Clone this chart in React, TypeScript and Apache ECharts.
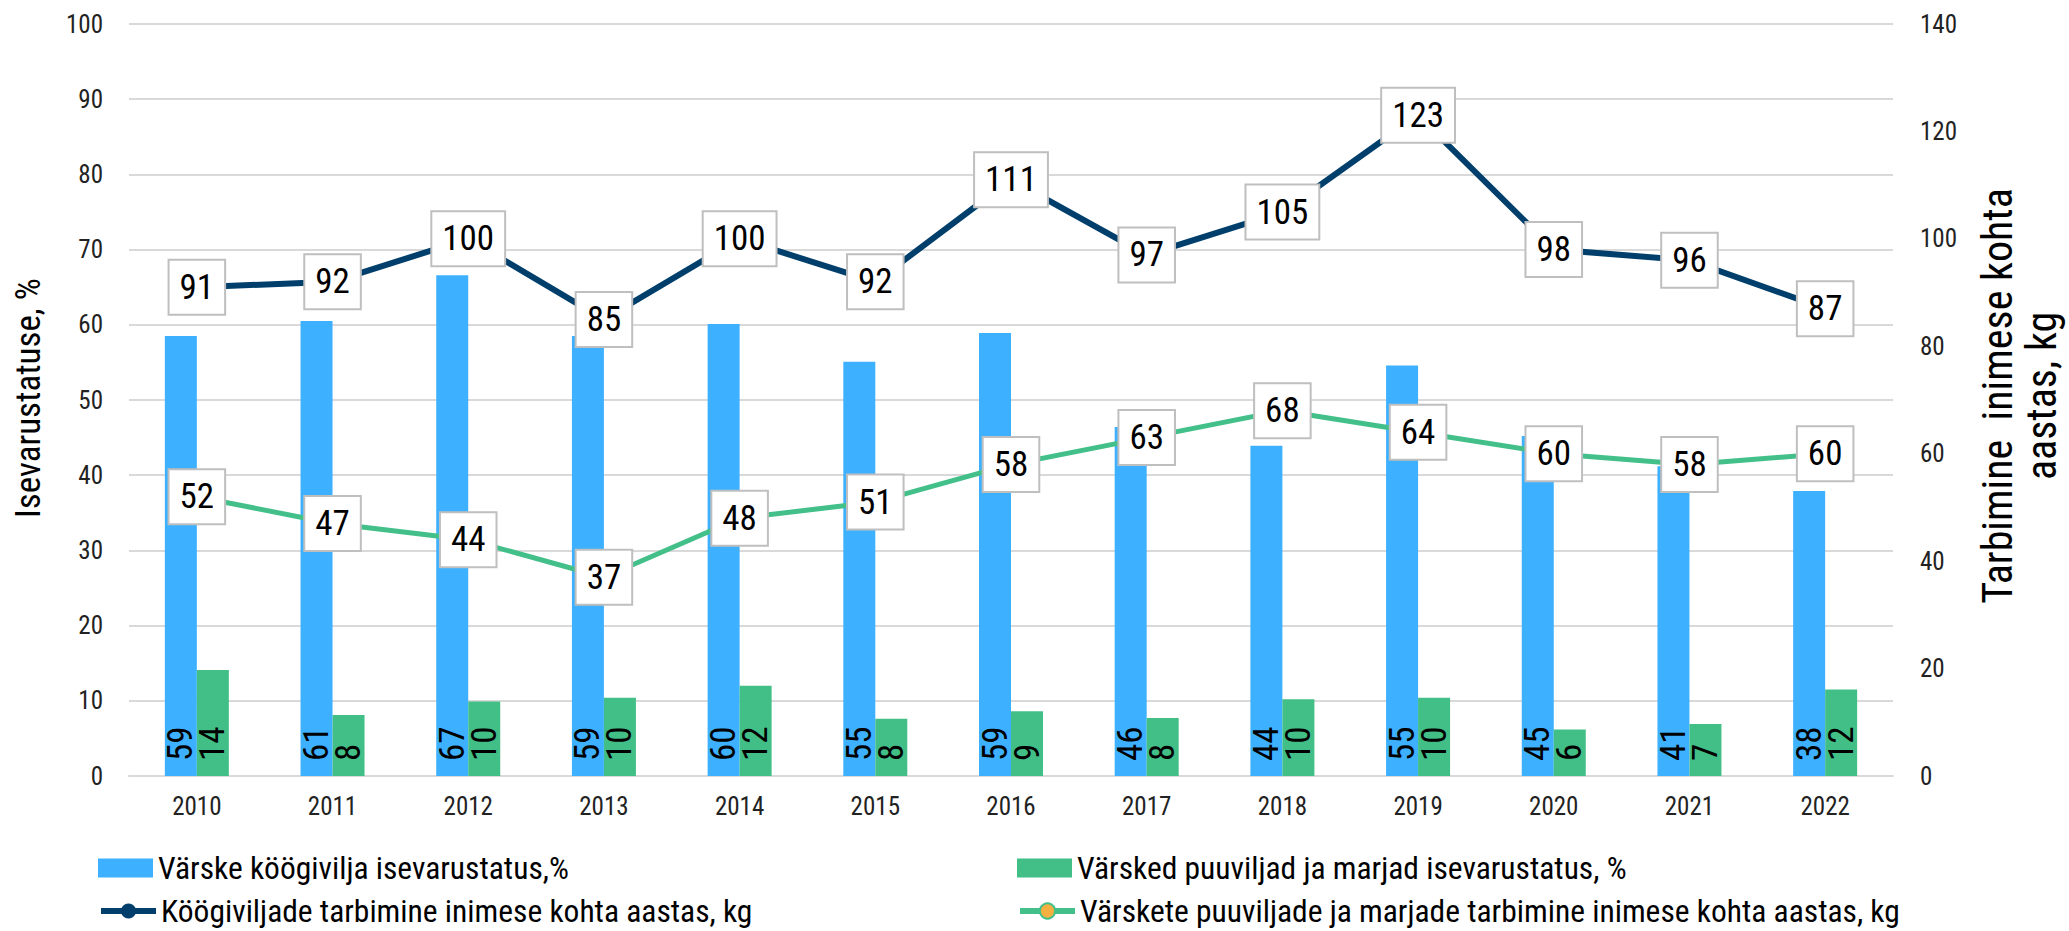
import React, { useEffect, useRef } from "react";
import * as echarts from "echarts";

const years = ["2010", "2011", "2012", "2013", "2014", "2015", "2016", "2017", "2018", "2019", "2020", "2021", "2022"];
// Isevarustatus, % (left axis)
const vegSelf = [58.5, 60.5, 66.6, 58.5, 60.1, 55.1, 58.9, 46.4, 43.9, 54.6, 45.2, 41.2, 37.9];
const fruitSelf = [14.1, 8.1, 9.9, 10.4, 12.0, 7.6, 8.6, 7.7, 10.2, 10.4, 6.2, 6.9, 11.5];
// Tarbimine inimese kohta aastas, kg (right axis)
const vegCons = [91, 92, 100, 85, 100, 92, 111, 97, 105, 123, 98, 96, 87];
const fruitCons = [52, 47, 44, 37, 48, 51, 58, 63, 68, 64, 60, 58, 60];

const names = {
  vegSelf: "Värske köögivilja isevarustatus,%",
  fruitSelf: "Värsked puuviljad ja marjad isevarustatus, %",
  vegCons: "Köögiviljade tarbimine inimese kohta aastas, kg",
  fruitCons: "Värskete puuviljade ja marjade tarbimine inimese kohta aastas, kg",
};

const FONT = "'Liberation Sans Narrow', 'Roboto Condensed', 'DejaVu Sans Condensed', Roboto, sans-serif";

export default function App() {
  const ref = useRef<HTMLDivElement>(null);
  useEffect(() => {
    document.body.style.margin = "0";
    const chart = echarts.init(ref.current!, null, { renderer: "svg" });
    const barLabel = {
      show: true,
      position: "insideBottom",
      rotate: 90,
      align: "left",
      verticalAlign: "middle",
      distance: 15,
      fontSize: 35,
      fontFamily: FONT,
      color: "#000",
      formatter: (p: any) => String(Math.round(p.value)),
    };
    const lineLabel = {
      show: true,
      position: "inside",
      backgroundColor: "#fff",
      borderColor: "#BFBFBF",
      borderWidth: 2,
      padding: [8, 10],
      fontSize: 35,
      lineHeight: 37,
      fontFamily: FONT,
      color: "#000",
    };
    const mkLegend = (name: string, left: number, top: number, icon?: string) => ({
      orient: "horizontal",
      left,
      top,
      itemWidth: 55,
      itemHeight: 19,
      lineStyle: { width: 6 },
      textStyle: { fontSize: 31.5, lineHeight: 32, fontFamily: FONT, color: "#000" },
      data: [icon ? { name, icon } : { name }],
    });
    chart.setOption({
      animation: false,
      backgroundColor: "#fff",
      grid: { left: 129, right: 176, top: 24, bottom: 155 },
      legend: [
        mkLegend(names.vegSelf, 93, 847, "rect"),
        mkLegend(names.vegCons, 93, 890),
        mkLegend(names.fruitSelf, 1012, 847, "rect"),
        mkLegend(names.fruitCons, 1012, 890),
      ],
      xAxis: {
        type: "category",
        data: years,
        axisLine: { show: true, lineStyle: { color: "#D9D9D9", width: 2 } },
        axisTick: { show: false },
        axisLabel: { fontSize: 25, fontFamily: FONT, color: "#222", margin: 18 },
      },
      yAxis: [
        {
          type: "value",
          min: 0,
          max: 100,
          interval: 10,
          axisLine: { show: false },
          axisTick: { show: false },
          splitLine: { lineStyle: { color: "#D9D9D9", width: 2 } },
          axisLabel: { fontSize: 25, fontFamily: FONT, color: "#222", margin: 26 },
        },
        {
          type: "value",
          min: 0,
          max: 140,
          interval: 20,
          axisLine: { show: false },
          axisTick: { show: false },
          splitLine: { show: false },
          axisLabel: { fontSize: 25, fontFamily: FONT, color: "#222", margin: 27 },
        },
      ],
      graphic: [
        {
          type: "text",
          x: 28,
          y: 398,
          rotation: Math.PI / 2,
          style: {
            text: "Isevarustatuse, %",
            fontSize: 35,
            fontFamily: FONT,
            fill: "#000",
            align: "center",
            verticalAlign: "middle",
          },
        },
        {
          type: "text",
          x: 2019,
          y: 396,
          rotation: Math.PI / 2,
          style: {
            text: "Tarbimine  inimese kohta\naastas, kg",
            fontSize: 42,
            lineHeight: 44,
            fontFamily: FONT,
            fill: "#000",
            align: "center",
            verticalAlign: "middle",
          },
        },
      ],
      series: [
        {
          name: names.vegSelf,
          type: "bar",
          data: vegSelf,
          barWidth: 32,
          barGap: "0%",
          itemStyle: { color: "#3DB1FF" },
          label: barLabel,
        },
        {
          name: names.fruitSelf,
          type: "bar",
          data: fruitSelf,
          barWidth: 32,
          barGap: "0%",
          itemStyle: { color: "#41BF87" },
          label: barLabel,
        },
        {
          name: names.vegCons,
          type: "line",
          yAxisIndex: 1,
          data: vegCons,
          symbol: "circle",
          symbolSize: 2,
          lineStyle: { color: "#003F6B", width: 6 },
          itemStyle: { color: "#003F6B" },
          label: lineLabel,
          z: 5,
        },
        {
          name: names.fruitCons,
          type: "line",
          yAxisIndex: 1,
          data: fruitCons,
          symbol: "circle",
          symbolSize: 2,
          lineStyle: { color: "#43C08A", width: 5 },
          itemStyle: { color: "#F5B041", borderColor: "#43C08A", borderWidth: 2 },
          label: lineLabel,
          z: 4,
        },
      ],
    });
    return () => chart.dispose();
  }, []);
  return <div ref={ref} style={{ position: "fixed", left: 0, top: 0, width: 2069, height: 931 }} />;
}
